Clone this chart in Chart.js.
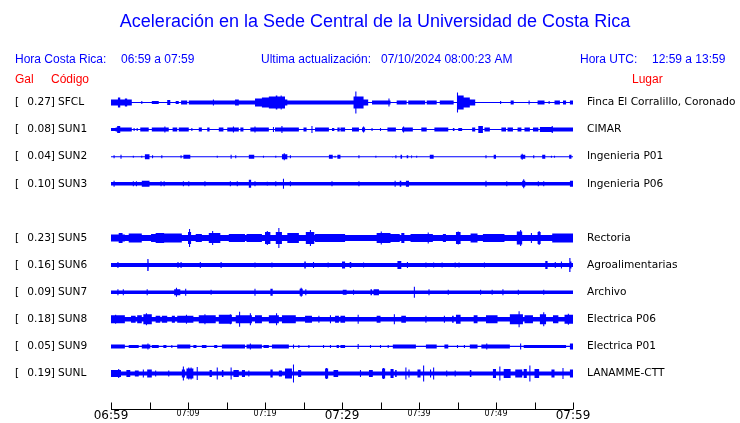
<!DOCTYPE html>
<html>
<head>
<meta charset="utf-8">
<script src="https://cdn.jsdelivr.net/npm/chart.js@4/dist/chart.umd.min.js"></script>
<style>
  html, body { margin: 0; padding: 0; background: #fff; }
  #wrap { width: 740px; height: 423px; position: relative; }
</style>
</head>
<body>
<div id="wrap"><canvas id="sismo" width="740" height="423"></canvas></div>
<script>
// stations, top to bottom (slot 4 is the missing SUN4)
const codes  = ['SFCL', 'SUN1', 'SUN2', 'SUN3', 'SUN5', 'SUN6', 'SUN7', 'SUN8', 'SUN9', 'SUNL'];
const slots  = [0, 1, 2, 3, 5, 6, 7, 8, 9, 10];
const gal    = ['0.27', '0.08', '0.04', '0.10', '0.23', '0.16', '0.09', '0.18', '0.05', '0.19'];
const places = ['Finca El Corralillo, Coronado', 'CIMAR', 'Ingenieria P01', 'Ingenieria P06', 'Rectoria',
                'Agroalimentarias', 'Archivo', 'Electrica P06', 'Electrica P01', 'LANAMME-CTT'];
// quiet half-amplitude of every trace
const baseAmp = [0.5, 0.5, 0.5, 1.7, 3, 2, 1.8, 2.3, 0.6, 2];

// bursts: [start minute, end minute, half amplitude]  (start == end is a single spike)
const sfcl = [[0,2.7,3],[0.9,1.2,5],[1.8,2.1,4],[4.0,4.0,1.5],[5.3,6.2,1.5],[7.3,7.7,2.5],[8.4,8.8,1.5],[9.1,9.9,2],
  [10.1,18.7,2],[13.3,13.3,3],[16.1,16.6,3],[18.7,19.6,4],[19.6,20.5,5],[20.5,22.6,6],[21.4,21.6,7],[22.1,22.1,7],
  [22.6,22.9,3],[22.9,30.4,2],[30.4,31.5,2],[31.5,32.8,6],[31.8,31.8,11],[32.8,33.4,3],[33.9,36.3,2],[36.1,36.1,4],
  [37.1,38.4,2],[38.6,40.8,2],[41.0,42.3,2],[42.7,44.5,2],[45.0,45.8,7],[45.0,45.0,10],[45.8,46.6,5],[46.6,47.3,3],
  [50.6,50.6,1.5],[51.9,52.3,2],[54.3,54.3,2],[55.4,56.3,2],[56.9,56.9,1.5],[57.6,58.3,2],[58.7,59.1,2],[59.6,60,2]];
const sun1 = [[0,0.6,1.5],[0.6,2.7,2],[0.8,1.2,3.5],[3.0,3.0,1.5],[3.4,3.4,1.5],[3.8,4.9,2],[5.3,7.5,2],[7.0,7.0,3],
  [8.0,8.6,2],[8.8,10.1,2],[10.5,10.5,1.5],[11.4,11.8,2],[12.5,12.8,2],[14.0,14.6,2],[15.1,16.6,2],[15.9,15.9,3],
  [16.8,17.2,2],[18.1,20.5,2],[18.7,18.7,3],[21.1,21.1,2.5],[21.3,24.4,2],[22.2,22.2,3.5],[25.0,25.4,2],[26.1,26.1,3.5],
  [26.5,28.3,2],[28.7,29.0,1.5],[29.4,29.7,2],[29.8,30.4,2],[31.3,32.2,2],[32.6,33.0,2],[32.8,32.8,3],[33.9,33.9,1.5],
  [35.0,35.0,1.5],[35.9,37.0,2],[37.8,39.2,2],[38.0,38.0,3],[40.3,41.0,2],[42.0,43.8,2],[44.4,44.6,1.5],[45.1,45.6,1.5],
  [46.9,47.3,2],[47.7,48.3,3.5],[48.5,49.2,2],[50.7,51.3,2],[51.5,52.2,2],[52.8,53.3,2],[53.7,54.4,2],[54.8,55.5,2],
  [55.7,57.4,2.5],[57.3,57.3,3.5],[57.4,60,2]];
const sun2 = [[0.4,0.4,1.5],[1.3,1.3,2],[2.9,2.9,1],[4.0,4.0,1],[4.4,5.0,2.5],[5.4,5.4,1.5],[6.6,6.6,1.5],[9.1,9.1,1.5],
  [9.4,10.3,2],[13.8,13.8,1],[15.6,15.6,2],[16.2,16.2,1.5],[17.9,18.6,2],[19.8,19.8,1],[21.4,21.4,1],[22.2,22.9,2.5],
  [22.5,22.5,3.5],[23.3,23.3,1.5],[28.3,28.8,2],[29.1,29.1,1],[29.4,29.8,2],[32.2,32.2,1.5],[34.4,34.4,1],[36.5,36.6,1.5],
  [37.0,37.0,1.5],[37.6,37.8,2],[38.4,38.6,1.5],[39.0,39.1,1.5],[39.7,39.7,1],[41.4,41.9,2],[48.7,48.7,1.5],[49.7,50.0,2],
  [53.2,53.8,2],[53.4,53.4,3],[54.9,54.9,1.5],[56.0,56.4,2],[57.2,57.2,1],[57.6,57.6,1],[59.5,59.8,2]];
const sun3 = [[0.4,0.4,3],[2.9,2.9,2.5],[3.3,3.3,2.5],[4.0,5.0,3],[6.5,6.5,2.5],[6.9,6.9,2.5],[9.4,9.4,2.5],[10.1,10.1,2.5],
  [12.2,12.2,2.5],[15.5,15.5,2.5],[16.4,16.4,2.5],[17.9,18.2,4],[18.7,18.7,2.5],[20.3,20.3,2],[21.4,21.4,2.5],
  [22.4,22.4,5],[23.3,23.3,2.5],[28.7,28.7,2.5],[32.2,32.2,2.5],[36.9,36.9,3],[37.5,37.7,3],[38.3,38.7,3],[48.7,48.7,3],
  [51.4,51.4,2.5],[53.4,53.8,3],[53.6,53.6,4.5],[55.5,55.5,2.5],[56.2,56.2,2.5],[59.6,60,3]];
const sun5 = [[0,1.8,3.5],[1.0,1.5,5],[2.3,4.0,4.5],[5.2,5.8,4],[5.8,6.9,5],[6.9,9.2,4.5],[10.0,10.4,6],[10.2,10.2,9],
  [11.0,11.8,4],[12.7,14.2,5],[13.2,13.2,7],[15.3,17.4,4],[17.6,19.6,4],[20.0,20.7,6],[20.3,20.3,7],[21.4,22.2,6],
  [21.8,21.8,10],[22.9,24.4,5],[25.3,26.4,6],[25.9,25.9,8],[26.5,30.4,4],[34.5,36.3,5],[35.1,35.1,6.5],[36.3,37.5,4],
  [37.7,38.1,5],[38.9,41.8,4],[41.2,41.2,5.5],[43.1,43.5,4],[44.8,45.4,6],[45.1,45.1,6.5],[46.7,47.6,4.5],[48.3,51.1,4],
  [52.7,53.4,6.5],[53.2,53.2,8],[54.6,54.6,5],[55.4,55.8,6],[55.6,55.6,7],[57.3,60,4.5]];
const sun6 = [[0.9,0.9,3],[4.7,4.9,4],[4.8,4.8,6],[8.7,8.7,3],[9.1,9.1,3],[11.6,11.6,3],[14.3,14.3,3],[18.7,18.7,2.5],
  [20.9,20.9,2.5],[25.1,25.3,3.5],[26.3,26.3,3],[28.2,28.2,2.5],[30.0,30.4,3.5],[31.0,31.2,3],[32.8,32.8,2.5],
  [37.2,37.7,4],[38.5,38.5,3],[40.9,40.9,2.5],[41.9,41.9,2.5],[43.0,43.0,2.5],[44.7,44.7,2.5],[45.2,45.2,2.5],
  [48.5,48.5,2.5],[56.4,56.7,4],[57.7,57.7,3],[58.5,58.5,3.5],[59.5,59.8,3.5],[59.6,59.6,7]];
const sun7 = [[0.9,0.9,3],[1.6,1.6,3],[4.7,4.7,3],[8.2,9.0,3],[8.5,8.5,4.5],[9.7,9.7,3.5],[13.0,13.0,2.5],[18.7,18.7,3.5],
  [20.7,21.0,3.5],[24.5,24.9,3.5],[24.7,24.7,4.5],[25.3,25.3,3],[30.1,30.6,2.5],[31.5,31.5,2.5],[33.7,33.9,3],
  [34.1,34.8,3],[39.4,39.4,5.5],[41.3,41.3,3],[43.8,43.8,2.5],[48.0,48.0,2.5],[49.5,49.5,2.5],[50.9,50.9,3],
  [52.9,52.9,2.5],[56.2,56.2,2.5]];
const sun8 = [[0,1.8,4],[0.6,0.6,4.5],[2.6,3.2,3.5],[3.4,4.0,4],[4.2,5.3,5],[4.6,4.6,6],[5.8,6.4,3.5],[6.6,7.3,3.5],
  [7.9,8.3,3.5],[8.6,10.7,3.5],[9.8,9.8,4.5],[11.4,13.6,4],[12.2,12.2,5],[14.0,15.7,4.5],[15.5,15.5,5],[16.2,17.0,4],
  [16.7,16.7,7.5],[17.0,18.3,4],[18.1,18.1,6],[18.7,19.6,4],[20.5,21.8,4],[21.5,21.5,6],[22.2,24.0,4],[25.2,26.1,3.5],
  [27.0,27.0,3.5],[28.5,28.5,4],[29.1,29.6,3.5],[29.8,30.4,3.5],[32.1,32.1,4.5],[34.5,35.0,3.5],[36.8,36.8,5],
  [37.7,38.3,3.5],[40.9,40.9,3.5],[43.3,43.3,3.5],[44.3,44.5,3.5],[44.8,45.4,4.5],[47.1,47.6,4],[48.7,50.2,4],
  [51.8,53.5,5],[53.0,53.0,8],[53.7,54.8,4],[55.7,56.5,5],[56.2,56.2,7],[57.4,58.1,4],[58.9,60,4.5],[59.4,59.4,5.5]];
const sun9 = [[0,1.8,2],[2.3,3.6,1.5],[4.0,5.1,2],[4.8,4.8,3],[5.3,6.2,1.5],[6.8,7.2,1.5],[7.9,7.9,1.5],[8.6,10.3,2],
  [10.7,11.1,1.5],[11.8,12.4,1.5],[13.4,13.8,1.5],[14.4,17.4,2],[17.6,19.6,2],[18.1,18.1,3],[19.8,20.5,1.5],[20.9,23.1,2],
  [23.7,23.7,2],[24.4,24.4,1.5],[25.7,25.7,1.5],[27.6,27.6,1.5],[28.5,28.5,1.5],[29.3,29.6,1.5],[29.8,30.4,1.5],
  [32.1,32.1,2.5],[33.7,33.7,1.5],[35.0,35.0,1.5],[36.0,36.0,1.5],[36.6,39.6,2],[40.9,42.3,2],[43.3,43.8,2],
  [45.0,45.0,1.5],[45.9,45.9,1.5],[46.6,47.6,2],[48.1,51.8,2],[48.8,48.8,3],[53.2,53.2,3],[53.6,59.1,1.5],[59.6,60,3]];
const sunl = [[0,1.3,3.5],[1.0,1.0,4.5],[2.0,2.5,3.5],[3.1,3.6,3],[4.2,4.2,4],[4.7,5.3,4],[5.8,5.8,3],[7.5,7.5,3],
  [9.2,9.6,4],[9.4,9.4,7],[9.8,10.7,5],[10.1,10.1,6],[10.4,10.4,6],[11.2,11.2,6.5],[12.8,13.1,3.5],[13.8,13.8,6],
  [14.4,14.6,3.5],[15.6,15.6,6],[15.9,16.6,3.5],[17.0,17.4,3.5],[17.9,17.9,3],[20.7,21.0,4],[21.8,22.2,3],[22.6,23.5,5],
  [23.7,23.7,9],[24.3,24.7,3.5],[27.8,28.2,5],[28.0,28.0,5.5],[28.9,29.5,3.5],[32.4,32.4,3.5],[33.5,34.0,3.5],
  [35.2,35.6,5],[35.4,35.4,5.5],[36.3,36.7,4.5],[36.9,37.1,3.5],[38.3,38.3,6],[38.7,38.7,4],[39.8,40.2,4],[40.6,40.6,8],
  [41.5,41.5,4],[41.9,41.9,6],[43.6,43.6,3],[44.7,44.7,3],[46.6,46.8,3.5],[49.6,50.0,4.5],[50.5,50.5,7],[51.0,51.9,4.5],
  [52.5,53.4,4],[53.6,54.0,4.5],[54.4,54.4,8],[55.0,55.6,4.5],[57.2,57.6,4],[58.7,58.7,5.5],[59.6,60,4]];
const bursts = [sfcl, sun1, sun2, sun3, sun5, sun6, sun7, sun8, sun9, sunl];

// time axis (minutes after 06:59)
const tickMinutes = [0, 5, 10, 15, 20, 25, 30, 35, 40, 45, 50, 55, 60];
const labelMinutes = [0, 10, 20, 30, 40, 50, 60];
const labelTexts = ['06:59', '07:09', '07:19', '07:29', '07:39', '07:49', '07:59'];

const ROW = 27.1;      // amplitude units between traces
const SPIKE = 0.14;    // minimum width of a spike, minutes
const BLUE = '#0000ff';

function envelope(base, list) {
  const segs = list.map(b => b[1] > b[0] ? b : [b[0] - SPIKE / 2, b[0] + SPIKE / 2, b[2]]);
  const cuts = new Set([0, 60]);
  segs.forEach(s => { cuts.add(Math.max(0, s[0])); cuts.add(Math.min(60, s[1])); });
  const xs = [...cuts].sort((a, b) => a - b);
  const pts = [];
  for (let k = 0; k < xs.length - 1; k++) {
    const m = (xs[k] + xs[k + 1]) / 2;
    let a = base;
    segs.forEach(s => { if (m >= s[0] && m <= s[1]) a = Math.max(a, s[2]); });
    pts.push([xs[k], a], [xs[k + 1], a]);
  }
  return pts;
}

const datasets = [];
codes.forEach((c, i) => {
  const env = envelope(baseAmp[i], bursts[i]);
  const y0 = slots[i] * ROW;
  datasets.push({ label: c, data: env.map(p => ({ x: p[0], y: y0 - p[1] })), fill: '+1' });
  datasets.push({ label: c + '-', data: env.map(p => ({ x: p[0], y: y0 + p[1] })), fill: false });
});

const textPlugin = {
  id: 'textos',
  afterDraw(chart) {
    const ctx = chart.ctx;
    const xs = chart.scales.x, ys = chart.scales.y;
    ctx.save();
    ctx.textBaseline = 'middle';
    // title and header
    ctx.fillStyle = BLUE;
    ctx.textAlign = 'center';
    ctx.font = '18px "Liberation Sans", Arial, sans-serif';
    ctx.fillText('Aceleración en la Sede Central de la Universidad de Costa Rica', 375, 22);
    ctx.font = '12px "Liberation Sans", Arial, sans-serif';
    ctx.textAlign = 'left';
    ctx.fillText('Hora Costa Rica:', 15, 60);
    ctx.fillText('06:59 a 07:59', 121, 60);
    ctx.fillText('Ultima actualización:', 261, 60);
    ctx.fillText('07/10/2024 08:00:23 AM', 381, 60);
    ctx.fillText('Hora UTC:', 580, 60);
    ctx.fillText('12:59 a 13:59', 652, 60);
    ctx.fillStyle = '#ff0000';
    ctx.fillText('Gal', 15, 80);
    ctx.fillText('Código', 51, 80);
    ctx.fillText('Lugar', 632, 80);
    // station labels
    ctx.fillStyle = '#000';
    ctx.font = '10.6px "DejaVu Sans", sans-serif';
    codes.forEach((c, i) => {
      const y = ys.getPixelForValue(slots[i] * ROW);
      ctx.textAlign = 'left';
      ctx.fillText('[', 15, y);
      ctx.textAlign = 'right';
      ctx.fillText(gal[i] + ']', 55, y);
      ctx.textAlign = 'left';
      ctx.fillText(c, 58, y);
      ctx.fillText(places[i], 587, y);
    });
    // time axis
    const ay = 409.5;
    ctx.strokeStyle = '#000';
    ctx.lineWidth = 1;
    ctx.beginPath();
    ctx.moveTo(xs.getPixelForValue(0), ay);
    ctx.lineTo(xs.getPixelForValue(60), ay);
    tickMinutes.forEach(m => {
      const x = Math.round(xs.getPixelForValue(m)) + 0.5;
      ctx.moveTo(x, ay);
      ctx.lineTo(x, ay - 7);
    });
    ctx.stroke();
    ctx.textAlign = 'center';
    labelMinutes.forEach((m, k) => {
      const big = m % 30 === 0;
      ctx.font = (big ? '12px' : '8px') + ' "DejaVu Sans", sans-serif';
      ctx.fillText(labelTexts[k], xs.getPixelForValue(m), big ? 416 : 414);
    });
    ctx.restore();
  }
};

new Chart(document.getElementById('sismo'), {
  type: 'line',
  data: { datasets: datasets },
  options: {
    responsive: false,
    animation: false,
    parsing: true,
    events: [],
    elements: {
      line: { borderWidth: 1, borderColor: 'transparent', backgroundColor: BLUE, tension: 0 },
      point: { radius: 0 }
    },
    layout: { padding: { left: 111, right: 167, top: 0, bottom: 0 } },
    scales: {
      x: { type: 'linear', min: 0, max: 60, display: false },
      y: { type: 'linear', reverse: true, min: -102.5, max: 320.5, display: false }
    },
    plugins: { legend: { display: false }, tooltip: { enabled: false }, title: { display: false } }
  },
  plugins: [textPlugin]
});
</script>
</body>
</html>
